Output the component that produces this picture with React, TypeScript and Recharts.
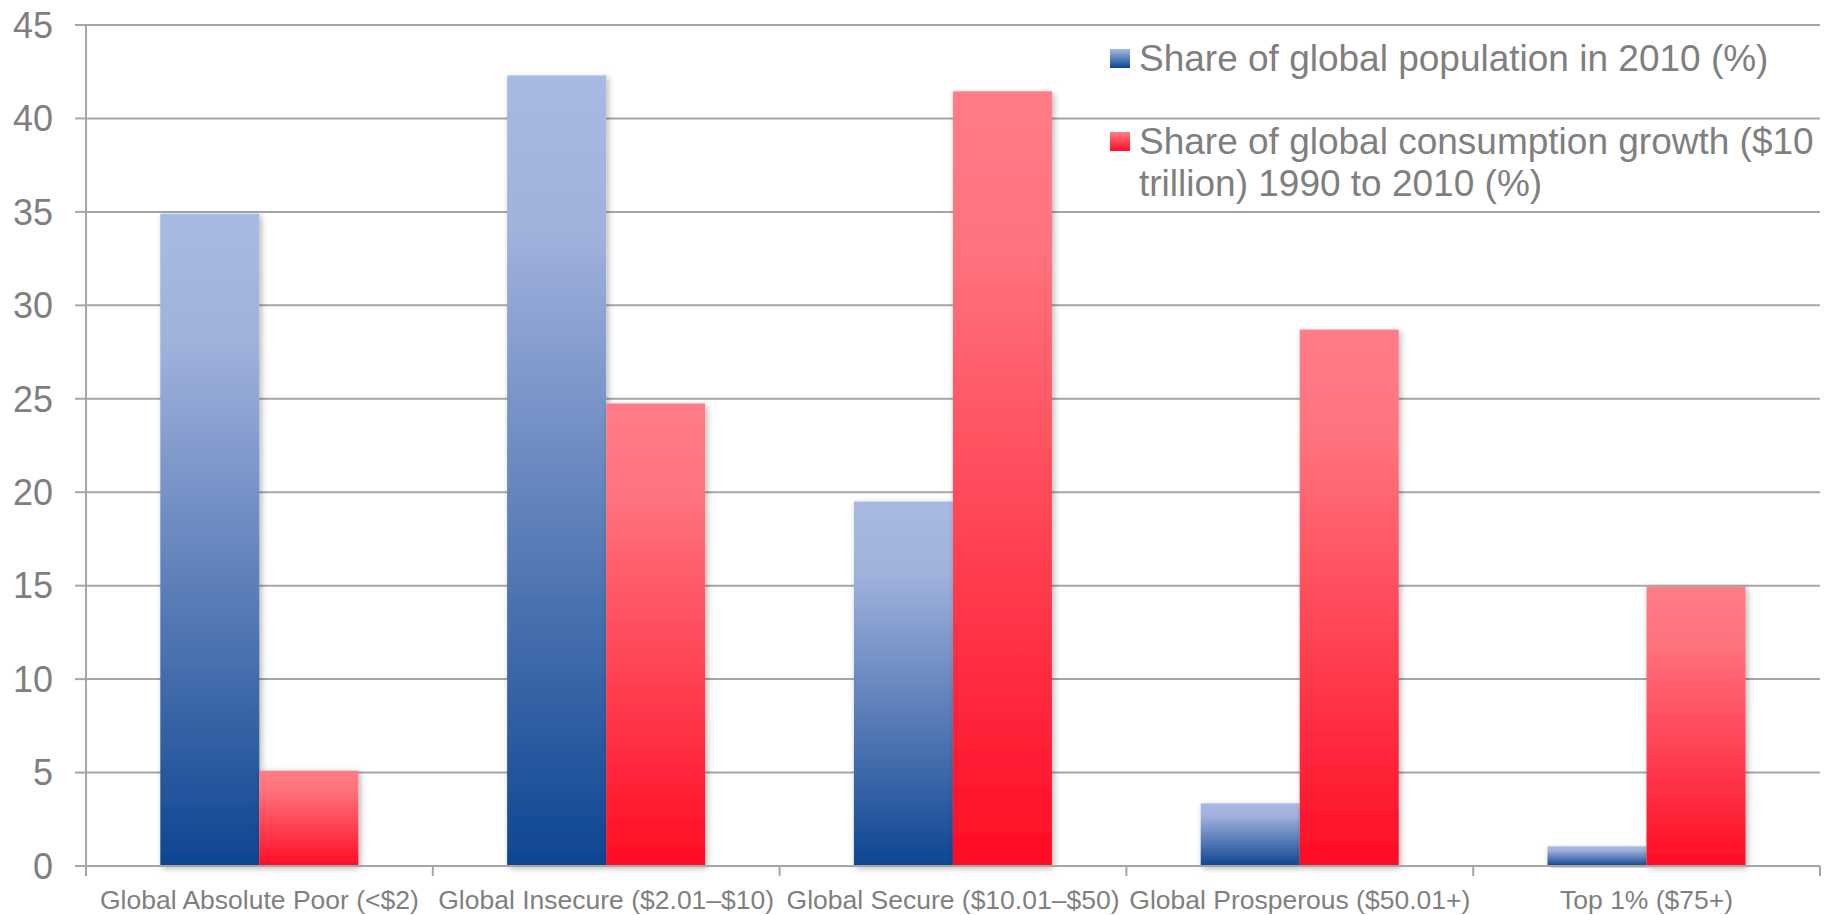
import { BarChart, Bar, XAxis, YAxis, CartesianGrid, Legend } from "recharts";

const categories = [
  "Global Absolute Poor (<$2)",
  "Global Insecure ($2.01–$10)",
  "Global Secure ($10.01–$50)",
  "Global Prosperous ($50.01+)",
  "Top 1% ($75+)",
];
const populationShare = [34.9, 42.3, 19.5, 3.35, 1.05];
const consumptionGrowthShare = [5.1, 24.75, 41.45, 28.7, 14.95];
const seriesNames = [
  "Share of global population in 2010 (%)",
  "Share of global consumption growth ($10\ntrillion) 1990 to 2010 (%)",
];
const yTicks = [0, 5, 10, 15, 20, 25, 30, 35, 40, 45];

const data = categories.map((name, i) => ({
  name,
  population: populationShare[i],
  growth: consumptionGrowthShare[i],
}));

const W = 1833;
const H = 915;
const M = { top: 25, right: 13, bottom: 0, left: 0 };
const Y_AXIS_W = 86;
const X_AXIS_H = 49;
const AXIS_Y = H - M.bottom - X_AXIS_H;
const BAND = (W - M.left - M.right - Y_AXIS_W) / categories.length;
const GRAY = "#a6a6a6";
const TEXT = "#7f7f7f";
const FONT = "'Liberation Sans', Arial, sans-serif";
const SWATCHES = ["linear-gradient(#a8b9e4, #0e4591)", "linear-gradient(#ff7c86, #ff0c24)"];

function XTick(props: any) {
  const { x, payload, index } = props;
  const half = BAND / 2;
  return (
    <g>
      <line x1={x - half} x2={x - half} y1={AXIS_Y} y2={AXIS_Y + 10} stroke={GRAY} strokeWidth={2} />
      {index === categories.length - 1 && (
        <line x1={x + half} x2={x + half} y1={AXIS_Y} y2={AXIS_Y + 10} stroke={GRAY} strokeWidth={2} />
      )}
      <text x={x} y={AXIS_Y + 43} textAnchor="middle" fill={TEXT} fontSize={26.5} fontFamily={FONT}>
        {payload.value}
      </text>
    </g>
  );
}

function ShadowBar(props: any) {
  const { x, y, width, height, fill } = props;
  if (!height || height <= 0) return null;
  return <rect x={x} y={y} width={width} height={height} fill={fill} filter="url(#barShadow)" />;
}

function LegendBox(props: any) {
  // keep series order, not alphabetical
  const items = [...(props.payload || [])].sort(
    (a: any, b: any) => seriesNames.indexOf(a.value) - seriesNames.indexOf(b.value)
  );
  return (
    <div style={{ fontFamily: FONT, fontSize: 37, lineHeight: "42px", color: TEXT }}>
      {items.map((item: any, i: number) => (
        <div
          key={item.value}
          style={{ position: "relative", paddingLeft: 29, marginBottom: i === 0 ? 41 : 0, whiteSpace: "pre" }}
        >
          <span
            style={{
              position: "absolute",
              left: 0,
              top: 11,
              width: 20,
              height: 19,
              background: SWATCHES[seriesNames.indexOf(item.value)],
            }}
          />
          {item.value}
        </div>
      ))}
    </div>
  );
}

export default function App() {
  return (
    <div style={{ position: "absolute", left: 0, top: 0, background: "#fff" }}>
      <BarChart width={W} height={H} data={data} margin={M} barCategoryGap="21.43%" barGap={0}>
        <defs>
          <linearGradient id="blueFill" x1="0" y1="0" x2="0" y2="1">
            <stop offset="0%" stopColor="#a8b9e4" />
            <stop offset="20%" stopColor="#a0b1dc" />
            <stop offset="100%" stopColor="#0e4591" />
          </linearGradient>
          <linearGradient id="redFill" x1="0" y1="0" x2="0" y2="1">
            <stop offset="0%" stopColor="#ff7c86" />
            <stop offset="20%" stopColor="#ff737e" />
            <stop offset="100%" stopColor="#ff0c24" />
          </linearGradient>
          <filter id="barShadow" x="-20%" y="-5%" width="150%" height="115%">
            <feDropShadow dx="2" dy="2" stdDeviation="3" floodColor="#000" floodOpacity="0.3" />
          </filter>
        </defs>
        <CartesianGrid vertical={false} stroke={GRAY} strokeWidth={2} />
        <XAxis
          dataKey="name"
          height={X_AXIS_H}
          axisLine={{ stroke: GRAY, strokeWidth: 2 }}
          tickLine={false}
          tick={<XTick />}
          interval={0}
        />
        <YAxis
          width={Y_AXIS_W}
          domain={[0, 45]}
          ticks={yTicks}
          axisLine={{ stroke: GRAY, strokeWidth: 2 }}
          tickLine={{ stroke: GRAY, strokeWidth: 2 }}
          tickSize={11}
          tickMargin={22}
          tick={{ fill: TEXT, fontSize: 36, fontFamily: FONT }}
        />
        <Legend
          layout="horizontal"
          align="center"
          verticalAlign="middle"
          wrapperStyle={{ left: 1110, top: 38, width: 720, height: "auto" }}
          content={<LegendBox />}
        />
        <Bar dataKey="population" name={seriesNames[0]} fill="url(#blueFill)" shape={<ShadowBar />} isAnimationActive={false} />
        <Bar dataKey="growth" name={seriesNames[1]} fill="url(#redFill)" shape={<ShadowBar />} isAnimationActive={false} />
      </BarChart>
    </div>
  );
}
